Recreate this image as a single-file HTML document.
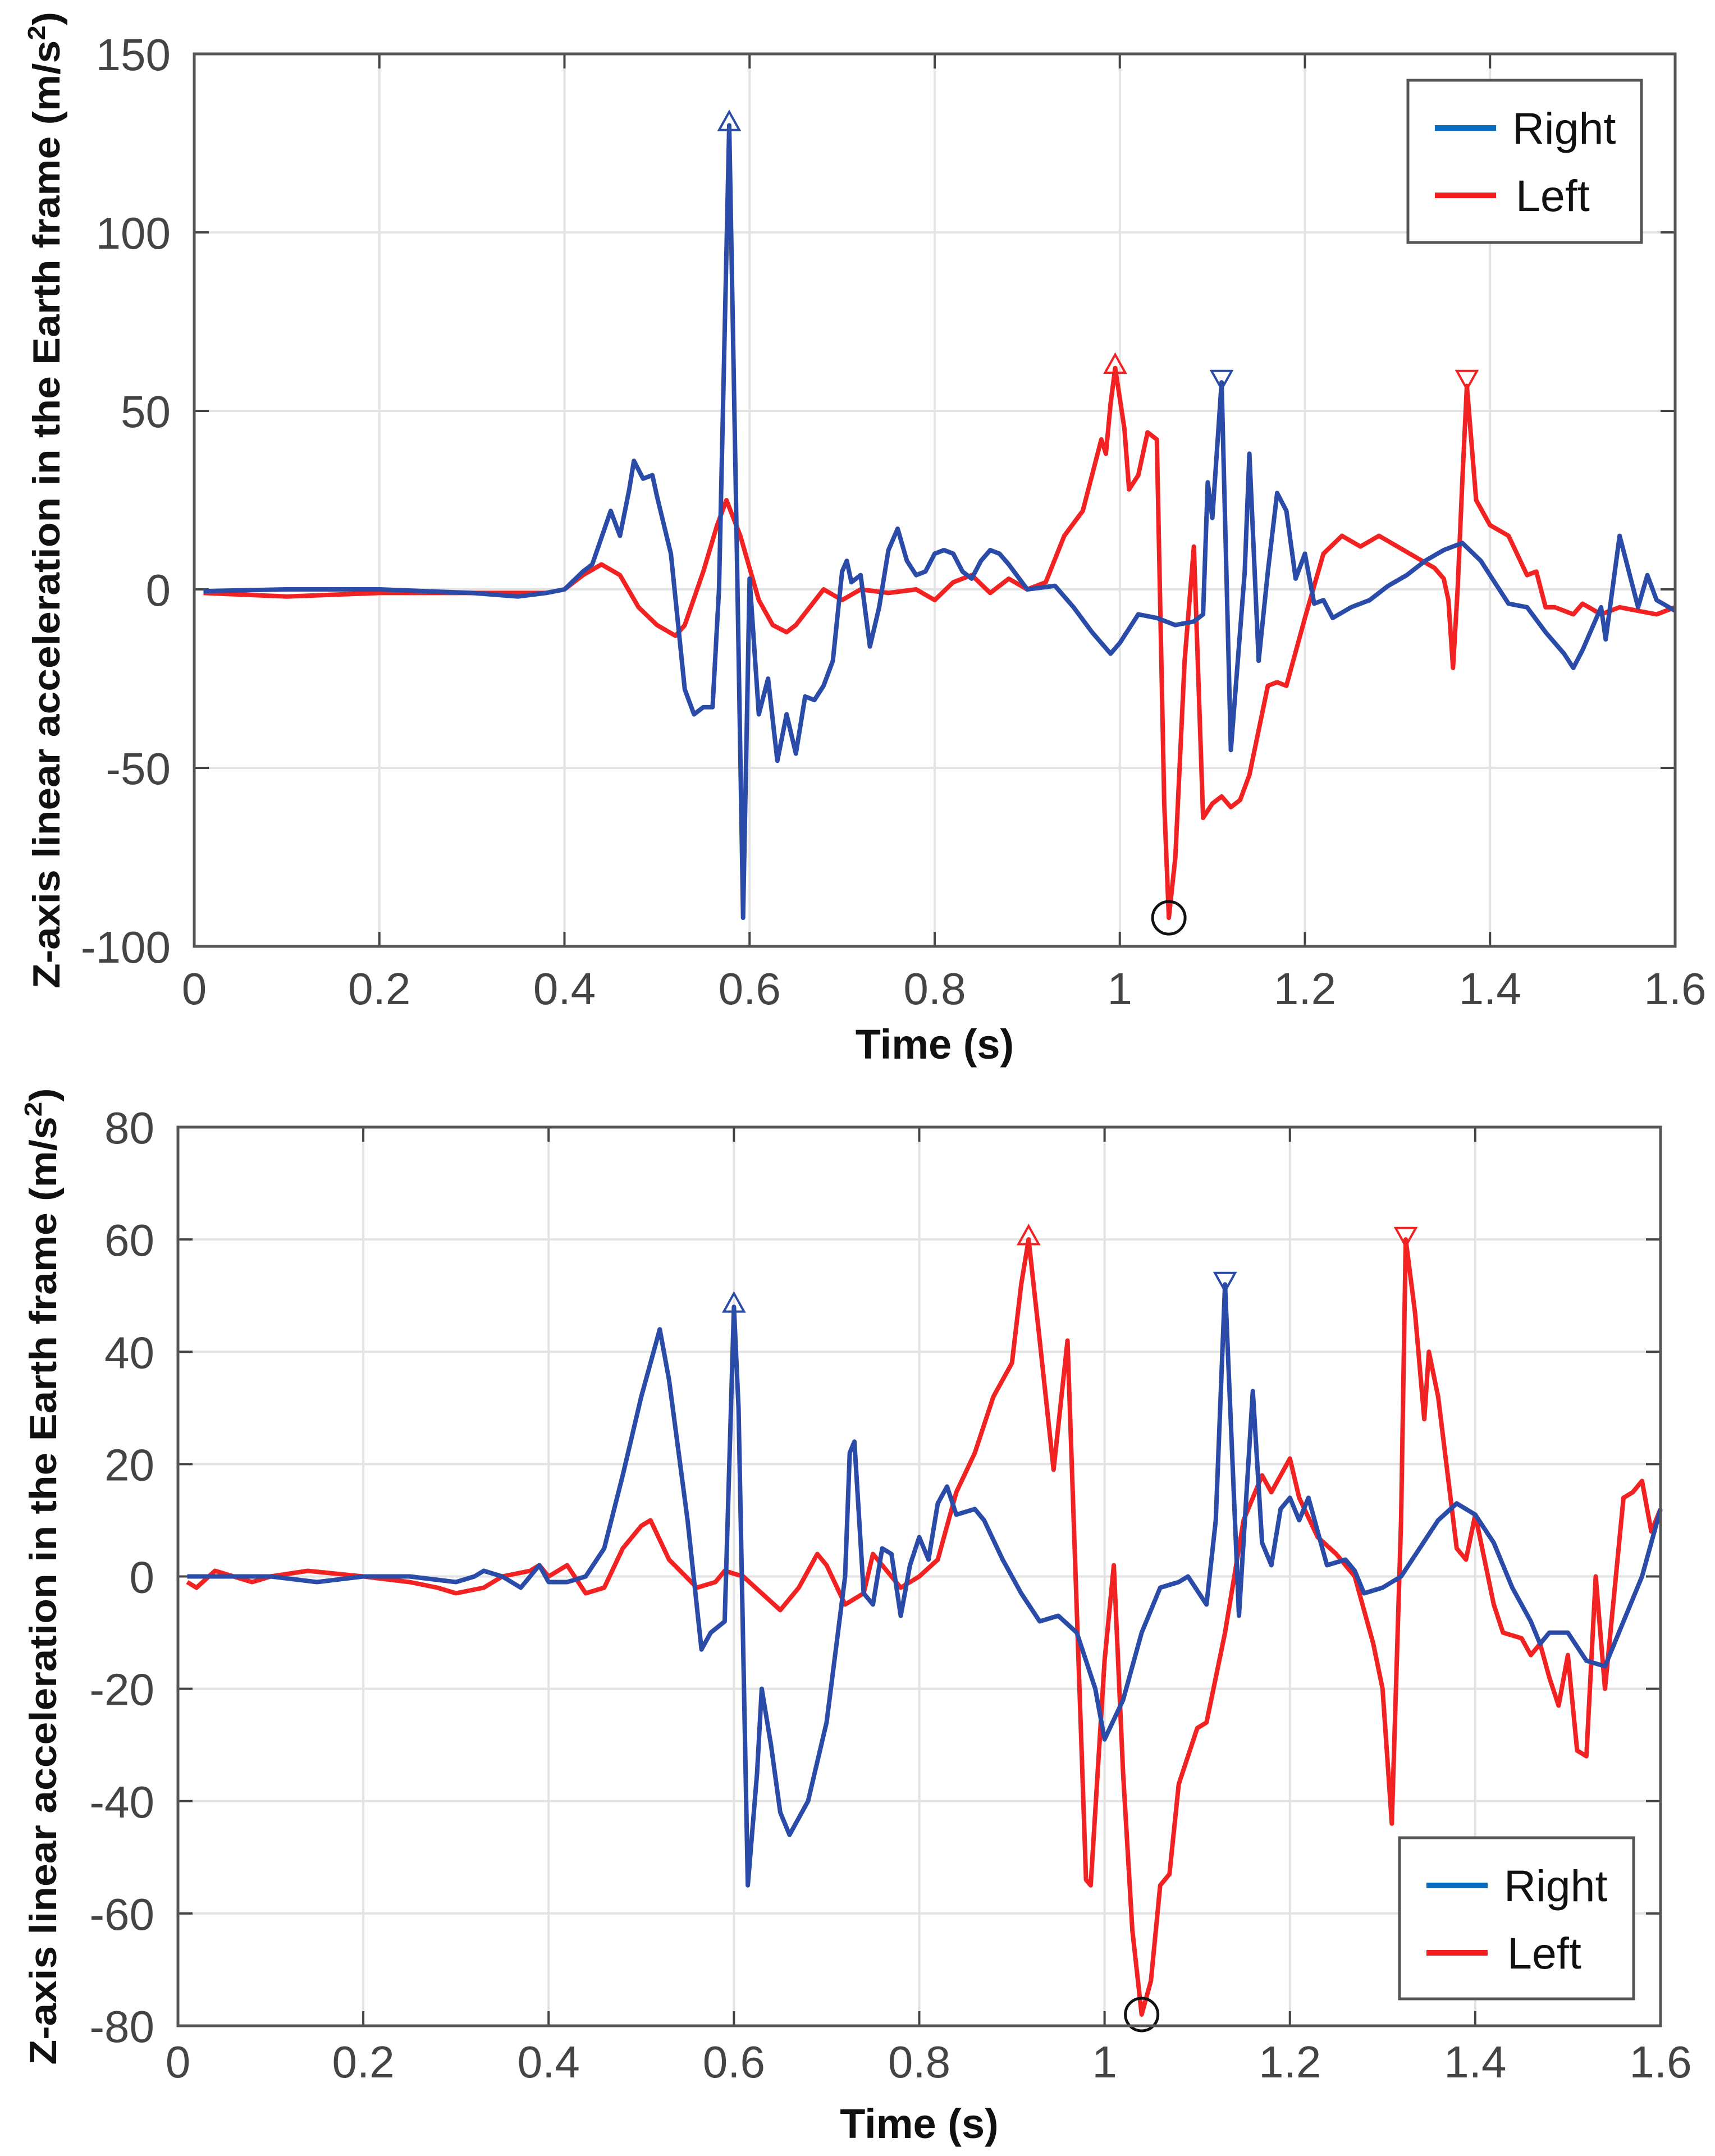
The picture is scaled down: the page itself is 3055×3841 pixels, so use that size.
<!DOCTYPE html>
<html><head><meta charset="utf-8"><style>
html,body{margin:0;padding:0;background:#fff;}
svg{display:block;font-family:"Liberation Sans",sans-serif;}
</style></head><body>
<svg id="fig" width="3055" height="3841" viewBox="0 0 3055 3841" xmlns="http://www.w3.org/2000/svg"></svg>
<script>
// ---------- Top chart data ----------
const topRightT = [0.01,0.1,0.2,0.3,0.35,0.38,0.40,0.42,0.43,0.45,0.46,0.47,0.475,0.485,0.495,0.50,0.515,0.53,0.54,0.55,0.56,0.567,0.578,0.585,0.593,0.60,0.61,0.62,0.63,0.64,0.65,0.66,0.67,0.68,0.69,0.70,0.705,0.71,0.72,0.73,0.74,0.75,0.76,0.77,0.78,0.79,0.80,0.81,0.82,0.83,0.84,0.85,0.86,0.87,0.88,0.90,0.93,0.95,0.97,0.99,1.0,1.02,1.04,1.06,1.08,1.09,1.095,1.10,1.11,1.12,1.135,1.14,1.15,1.16,1.17,1.18,1.19,1.20,1.21,1.22,1.23,1.25,1.27,1.29,1.31,1.33,1.35,1.37,1.39,1.40,1.42,1.44,1.46,1.48,1.49,1.50,1.52,1.525,1.54,1.55,1.56,1.57,1.58,1.60];
const topRightV = [-0.5,0,0,-1,-2,-1,0,5,7,22,15,28,36,31,32,26,10,-28,-35,-33,-33,0,130,30,-92,3,-35,-25,-48,-35,-46,-30,-31,-27,-20,5,8,2,4,-16,-5,11,17,8,4,5,10,11,10,5,3,8,11,10,7,0,1,-5,-12,-18,-15,-7,-8,-10,-9,-7,30,20,58,-45,5,38,-20,5,27,22,3,10,-4,-3,-8,-5,-3,1,4,8,11,13,8,4,-4,-5,-12,-18,-22,-17,-5,-14,15,5,-5,4,-3,-6];
const topLeftT = [0.01,0.1,0.2,0.3,0.38,0.40,0.42,0.44,0.46,0.48,0.50,0.52,0.53,0.55,0.565,0.575,0.59,0.61,0.625,0.64,0.65,0.68,0.70,0.72,0.75,0.78,0.80,0.82,0.84,0.86,0.88,0.90,0.92,0.94,0.96,0.98,0.985,0.99,0.995,1.005,1.01,1.02,1.03,1.04,1.048,1.053,1.06,1.07,1.08,1.09,1.10,1.11,1.12,1.13,1.14,1.16,1.17,1.18,1.20,1.22,1.24,1.26,1.28,1.30,1.32,1.34,1.35,1.355,1.36,1.365,1.37,1.375,1.385,1.40,1.42,1.44,1.45,1.46,1.47,1.49,1.50,1.52,1.54,1.56,1.58,1.60];
const topLeftV = [-1,-2,-1,-1,-1,0,4,7,4,-5,-10,-13,-10,5,18,25,15,-3,-10,-12,-10,0,-3,0,-1,0,-3,2,4,-1,3,0,2,15,22,42,38,52,62,45,28,32,44,42,-60,-92,-75,-20,12,-64,-60,-58,-61,-59,-52,-27,-26,-27,-8,10,15,12,15,12,9,6,3,-3,-22,0,30,57,25,18,15,4,5,-5,-5,-7,-4,-7,-5,-6,-7,-5];
const topMarkersT = [0.578,0.995,1.11,1.375];
const topMarkersV = [130,62,58,58];
const topCircle = [1.053,-92];
const topYTicks = [-100,-50,0,50,100,150];
const xTicks = [0,0.2,0.4,0.6,0.8,1,1.2,1.4,1.6];
const xTickLabels = ["0","0.2","0.4","0.6","0.8","1","1.2","1.4","1.6"];

// ---------- Bottom chart data ----------
const botRightT = [0.01,0.05,0.1,0.15,0.2,0.25,0.3,0.32,0.33,0.35,0.37,0.39,0.40,0.42,0.44,0.46,0.48,0.50,0.52,0.53,0.55,0.565,0.575,0.59,0.60,0.605,0.615,0.625,0.63,0.64,0.65,0.66,0.68,0.69,0.70,0.72,0.725,0.73,0.74,0.75,0.76,0.77,0.78,0.79,0.80,0.81,0.82,0.83,0.84,0.86,0.87,0.89,0.91,0.93,0.95,0.97,0.99,1.0,1.02,1.04,1.06,1.08,1.09,1.11,1.12,1.13,1.145,1.16,1.17,1.18,1.19,1.20,1.21,1.22,1.24,1.26,1.27,1.28,1.30,1.32,1.34,1.36,1.38,1.40,1.42,1.44,1.46,1.47,1.48,1.50,1.52,1.54,1.56,1.58,1.60];
const botRightV = [0,0,0,-1,0,0,-1,0,1,0,-2,2,-1,-1,0,5,18,32,44,35,10,-13,-10,-8,48,30,-55,-35,-20,-30,-42,-46,-40,-33,-26,0,22,24,-3,-5,5,4,-7,2,7,3,13,16,11,12,10,3,-3,-8,-7,-10,-20,-29,-22,-10,-2,-1,0,-5,10,52,-7,33,6,2,12,14,10,14,2,3,1,-3,-2,0,5,10,13,11,6,-2,-8,-12,-10,-10,-15,-16,-8,0,12];
const botLeftT = [0.01,0.02,0.04,0.06,0.08,0.1,0.14,0.2,0.25,0.28,0.3,0.33,0.35,0.38,0.39,0.40,0.42,0.44,0.46,0.48,0.50,0.51,0.53,0.56,0.58,0.59,0.61,0.63,0.65,0.67,0.69,0.70,0.72,0.74,0.75,0.76,0.78,0.80,0.82,0.84,0.86,0.88,0.90,0.91,0.918,0.93,0.945,0.96,0.98,0.985,1.0,1.01,1.02,1.03,1.04,1.05,1.06,1.07,1.08,1.10,1.11,1.13,1.15,1.17,1.18,1.20,1.21,1.23,1.25,1.27,1.29,1.30,1.31,1.32,1.325,1.335,1.345,1.35,1.36,1.38,1.39,1.40,1.42,1.43,1.45,1.46,1.47,1.48,1.49,1.50,1.51,1.52,1.53,1.54,1.56,1.57,1.58,1.59,1.60];
const botLeftV = [-1,-2,1,0,-1,0,1,0,-1,-2,-3,-2,0,1,2,0,2,-3,-2,5,9,10,3,-2,-1,1,0,-3,-6,-2,4,2,-5,-3,4,2,-2,0,3,15,22,32,38,52,60,42,19,42,-54,-55,-15,2,-35,-63,-78,-72,-55,-53,-37,-27,-26,-10,10,18,15,21,14,7,4,0,-12,-20,-44,10,60,47,28,40,32,5,3,11,-5,-10,-11,-14,-12,-18,-23,-14,-31,-32,0,-20,14,15,17,8,12];
const botMarkersT = [0.60,0.918,1.13,1.325];
const botMarkersV = [48,60,52,60];
const botCircle = [1.04,-78];
const botYTicks = [-80,-60,-40,-20,0,20,40,60,80];

const NS = "http://www.w3.org/2000/svg";
const svg = document.getElementById('fig');
function mk(tag, attrs, parent){
  const e = document.createElementNS(NS, tag);
  for (const k in attrs) e.setAttribute(k, attrs[k]);
  (parent||svg).appendChild(e);
  return e;
}
const BLUE = "#2a4ca8", RED = "#f22222";

function drawChart(cfg){
  const g = mk('g', {});
  
  
  const xs = t => cfg.L + (t - 0) / 1.6 * (cfg.R - cfg.L);
  const ys = v => cfg.B - (v - cfg.ymin) / (cfg.ymax - cfg.ymin) * (cfg.B - cfg.T);
  xTicks.forEach((t,i) => {
    const l = mk('line', {x1:xs(t), x2:xs(t), y1:cfg.T, y2:cfg.B, stroke:'#e3e3e3', 'stroke-width':4}, g);
    
    
  });
  cfg.yTicks.forEach(v => {
    const l = mk('line', {x1:cfg.L, x2:cfg.R, y1:ys(v), y2:ys(v), stroke:'#e3e3e3', 'stroke-width':4}, g);
    
    
  });
  xTicks.forEach(t => {
    mk('line', {x1:xs(t), x2:xs(t), y1:cfg.B, y2:cfg.B-26, stroke:'#444', 'stroke-width':4}, g);
    mk('line', {x1:xs(t), x2:xs(t), y1:cfg.T, y2:cfg.T+26, stroke:'#444', 'stroke-width':4}, g);
  });
  cfg.yTicks.forEach(v => {
    mk('line', {x1:cfg.L, x2:cfg.L+26, y1:ys(v), y2:ys(v), stroke:'#444', 'stroke-width':4}, g);
    mk('line', {x1:cfg.R, x2:cfg.R-26, y1:ys(v), y2:ys(v), stroke:'#444', 'stroke-width':4}, g);
  });
  xTicks.forEach((t,i) => {
    const tx = mk('text', {x:xs(t), y:cfg.B+cfg.xlabOff, 'text-anchor':'middle', 'font-size':80, fill:'#444'}, g);
    tx.textContent = xTickLabels[i];
    
    
  });
  cfg.yTicks.forEach(v => {
    const tx = mk('text', {x:cfg.L-42, y:ys(v)+29, 'text-anchor':'end', 'font-size':80, fill:'#444'}, g);
    tx.textContent = String(v);
    
    
  });
  function series(T, V, color, name){
    const d = T.map((t,i) => (i?'L':'M') + xs(t).toFixed(1) + ' ' + ys(V[i]).toFixed(1)).join(' ');
    const p = mk('path', {d, fill:'none', stroke:color, 'stroke-width':8, 'stroke-linejoin':'round'}, g);
    
    
  }
  series(cfg.lt, cfg.lv, RED, 'left-series-line');
  series(cfg.rt, cfg.rv, BLUE, 'right-series-line');
  const mcol = [BLUE, RED, BLUE, RED], mup = [true,true,false,false];
  cfg.mt.forEach((t,i) => {
    const cx = xs(t), cy = ys(cfg.mv[i]) - 6, s = 18;
    const pts = mup[i] ? `${cx},${cy-s} ${cx-s},${cy+s*0.8} ${cx+s},${cy+s*0.8}` : `${cx},${cy+s} ${cx-s},${cy-s*0.8} ${cx+s},${cy-s*0.8}`;
    const m = mk('polygon', {points:pts, fill:'none', stroke:mcol[i], 'stroke-width':4}, g);
    
    
  });
  const c = mk('circle', {cx:xs(cfg.circle[0]), cy:ys(cfg.circle[1]), r:29, fill:'none', stroke:'#111', 'stroke-width':5}, g);
  
  
  const box = mk('rect', {x:cfg.L, y:cfg.T, width:cfg.R-cfg.L, height:cfg.B-cfg.T, fill:'none', stroke:'#555', 'stroke-width':5}, g);
  
  
  const xt = mk('text', {x:(cfg.L+cfg.R)/2, y:cfg.B+cfg.xtitleOff, 'text-anchor':'middle', 'font-size':74, 'font-weight':'bold', fill:'#111'}, g);
  xt.textContent = 'Time (s)';
  
  
  const cy = (cfg.T+cfg.B)/2;
  const yt = mk('text', {x:0, y:0, transform:`translate(${cfg.ytX},${cy}) rotate(-90)`, 'text-anchor':'middle', 'font-size':68, 'font-weight':'bold', fill:'#111', textLength:1740, lengthAdjust:'spacingAndGlyphs'}, g);
  yt.innerHTML = 'Z-axis linear acceleration in the Earth frame (m/s<tspan dy="-26" font-size="44">2</tspan><tspan dy="26">)</tspan>';
  
  
  const lg = mk('g', {}, g);
  
  
  mk('rect', {x:cfg.leg[0], y:cfg.leg[1], width:cfg.leg[2], height:cfg.leg[3], fill:'#fff', stroke:'#555', 'stroke-width':5}, lg);
  const ents = [['Right','#0a6cc0'],['Left','#f41c1c']];
  ents.forEach((e,i) => {
    const yy = cfg.leg[1] + 85 + i*120;
    const ln = mk('line', {x1:cfg.leg[0]+48, x2:cfg.leg[0]+157, y1:yy, y2:yy, stroke:e[1], 'stroke-width':10}, lg);
    
    
    const tx = mk('text', {x:cfg.leg[0]+(i?192:186), y:yy+28, 'font-size':79, fill:'#111'}, lg);
    tx.textContent = e[0];
    
    
  });
}

drawChart({name:'top-chart', L:346, R:2984, T:96, B:1686, ymin:-100, ymax:150, yTicks:topYTicks,
  rt:topRightT, rv:topRightV, lt:topLeftT, lv:topLeftV, mt:topMarkersT, mv:topMarkersV, circle:topCircle,
  xlabOff:103, xtitleOff:200, ytX:106, leg:[2508,143,416,289]});
drawChart({name:'bottom-chart', L:317, R:2958, T:2008, B:3609, ymin:-80, ymax:80, yTicks:botYTicks,
  rt:botRightT, rv:botRightV, lt:botLeftT, lv:botLeftV, mt:botMarkersT, mv:botMarkersV, circle:botCircle,
  xlabOff:92, xtitleOff:200, ytX:100, leg:[2493,3274,417,287]});
</script>
</body></html>
